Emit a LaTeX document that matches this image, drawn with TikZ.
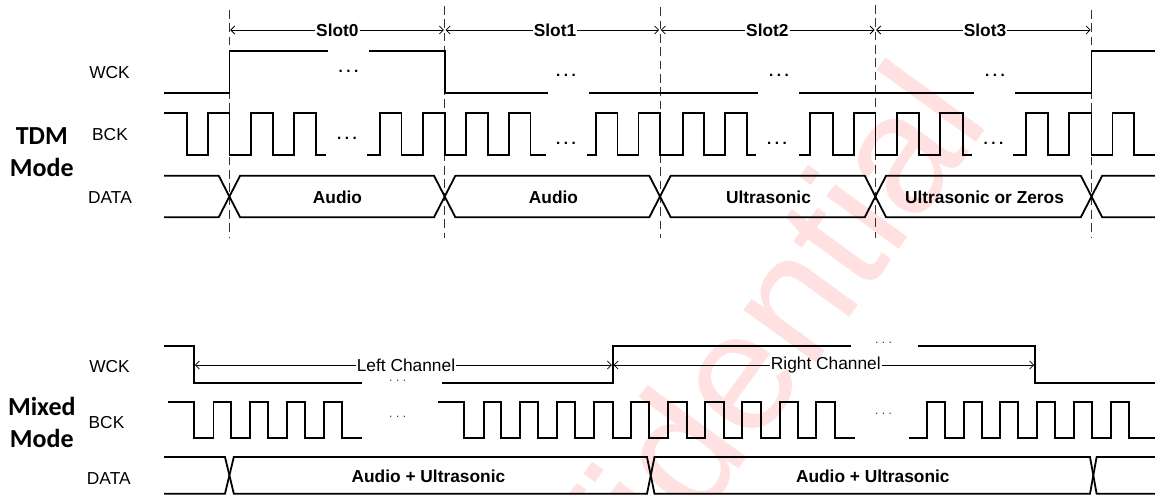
\documentclass[tikz,border=0pt]{standalone}
\usepackage{fontspec}
\setmainfont{Liberation Sans}
\newfontfamily\carl{Carlito}
\usetikzlibrary{arrows.meta}
\definecolor{wmark}{RGB}{255,225,225}
\tikzset{
  sig/.style={line width=1.35pt,black,line join=miter,line cap=butt},
  guide/.style={line width=0.6pt,black!80,dash pattern=on 6.5pt off 3.5pt},
  dim/.style={line width=0.6pt,black,shorten <=0.6pt,shorten >=0.6pt,
     arrows={-{Straight Barb[length=3pt,width=6pt]}}},
  lab/.style={inner sep=0pt,font=\fontsize{13}{15}\selectfont},
  blab/.style={inner sep=0pt,font=\fontsize{13}{15}\selectfont\bfseries},
  mode/.style={inner sep=0pt,align=center,font=\carl\fontsize{19.5}{23.6}\selectfont\bfseries},
  bdots/.style={inner sep=0pt,font=\fontsize{11.5}{12}\selectfont\bfseries},
  tdots/.style={inner sep=0pt,font=\fontsize{9}{10}\selectfont,black!80},
}
\newcommand\spaced{.\kern2.6pt.\kern2.6pt.}
\begin{document}
\begin{tikzpicture}[x=0.75pt,y=-0.75pt]
\path[use as bounding box] (0,0) rectangle (1155,495);
\clip (0,0) rectangle (1155,495);
\fill[white] (0,0) rectangle (1155,495);
% watermark
\node[anchor=base east,inner sep=0pt,rotate=54,text=wmark,font=\fontsize{127}{127}\selectfont] (wm) at (992,121) {Confidential};
% guides
\draw[guide] (229.4,10) -- (229.4,238);
\draw[guide] (444.7,6) -- (444.7,238);
\draw[guide] (660,7.3) -- (660,238);
\draw[guide] (875.4,5) -- (875.4,238);
\draw[guide] (1091.5,10) -- (1091.5,238);
% TDM WCK
\def\yh{51.3}\def\yl{93.3}
\draw[sig] (164,\yl) -- (229.4,\yl) -- (229.4,\yh) -- (328,\yh);
\draw[sig] (369,\yh) -- (444.7,\yh) -- (444.7,\yl) -- (547.5,\yl);
\draw[sig] (589,\yl) -- (758,\yl);
\draw[sig] (799,\yl) -- (974,\yl);
\draw[sig] (1015,\yl) -- (1091.5,\yl) -- (1091.5,\yh) -- (1155,\yh);
% TDM BCK
\def\yh{113.3}\def\yl{155}
\draw[sig] (164,\yh) \foreach \f/\r in {186.8/208,229.4/251,272.6/294} { -- (\f,\yh) -- (\f,\yl) -- (\r,\yl) -- (\r,\yh)} -- (315.6,\yh) -- (315.6,\yl) -- (325.6,\yl);
\draw[sig] (367.4,\yl) -- (380.3,\yl) -- (380.3,\yh) \foreach \f/\r in {401.4/423,444.7/466,487.6/509} { -- (\f,\yh) -- (\f,\yl) -- (\r,\yl) -- (\r,\yh)} -- (530.5,\yh) -- (530.5,\yl) -- (545.7,\yl);
\draw[sig] (587,\yl) -- (596,\yl) -- (596,\yh) \foreach \f/\r in {617.5/638.5,660/682.6,704/725} { -- (\f,\yh) -- (\f,\yl) -- (\r,\yl) -- (\r,\yh)} -- (746.7,\yh) -- (746.7,\yl) -- (756,\yl);
\draw[sig] (798.5,\yl) -- (810,\yl) -- (810,\yh) \foreach \f/\r in {833/854,875.4/897,919/940} { -- (\f,\yh) -- (\f,\yl) -- (\r,\yl) -- (\r,\yh)} -- (962.7,\yh) -- (962.7,\yl) -- (972,\yl);
\draw[sig] (1013,\yl) -- (1026,\yl) -- (1026,\yh) \foreach \f/\r in {1048/1069,1091.5/1112.5} { -- (\f,\yh) -- (\f,\yl) -- (\r,\yl) -- (\r,\yh)} -- (1134,\yh) -- (1134,\yl) -- (1155,\yl);
% TDM DATA
\foreach \u/\v in {175.7/217.3,217.3/175.7}{
\draw[sig] (164,\u) -- (218.7,\u) -- (240.1,\v) -- (434,\v) -- (455.4,\u) -- (649.3,\u) -- (670.7,\v) -- (864.7,\v) -- (886.1,\u) -- (1080.8,\u) -- (1102.2,\v) -- (1155,\v);
}
% Slot dimensions
\coordinate (t0) at (229.4,30);
\coordinate (t1) at (444.7,30);
\coordinate (t2) at (660,30);
\coordinate (t3) at (875.4,30);
\coordinate (t4) at (1091.5,30);
\node[blab] (s0) at (337.4,30) {Slot0};
\node[blab] (s1) at (555,30) {Slot1};
\node[blab] (s2) at (767.4,30) {Slot2};
\node[blab] (s3) at (985,30) {Slot3};
\draw[dim] (s0) -- (t0); \draw[dim] (s0) -- (t1);
\draw[dim] (s1) -- (t1); \draw[dim] (s1) -- (t2);
\draw[dim] (s2) -- (t2); \draw[dim] (s2) -- (t3);
\draw[dim] (s3) -- (t3); \draw[dim] (s3) -- (t4);
% TDM labels
\node[lab] (wck1) at (109.5,72.7) {WCK};
\node[lab] (bck1) at (110,134.7) {BCK};
\node[lab] (data1) at (110,197.3) {DATA};
\node[mode] (tdm) at (41.8,152) {TDM\\Mode};
\node[blab] (d1) at (337.5,197) {Audio};
\node[blab] (d2) at (553.5,197) {Audio};
\node[blab] (d3) at (768.5,197) {Ultrasonic};
\node[blab] (d4) at (984.5,197) {Ultrasonic or Zeros};
\node[bdots] (w1) at (348.5,71) {\spaced};
\node[bdots] (w2) at (566,75) {\spaced};
\node[bdots] (w3) at (779,75) {\spaced};
\node[bdots] (w4) at (995,75) {\spaced};
\node[bdots] (b1) at (347,138.3) {\spaced};
\node[bdots] (b2) at (566,143.7) {\spaced};
\node[bdots] (b3) at (777,143.7) {\spaced};
\node[bdots] (b4) at (993.4,143.7) {\spaced};
% Mixed WCK
\def\yh{346}\def\yl{383.3}
\draw[sig] (164,\yh) -- (194,\yh) -- (194,\yl) -- (361.8,\yl);
\draw[sig] (442,\yl) -- (612.7,\yl) -- (612.7,\yh) -- (850.6,\yh);
\draw[sig] (917.6,\yh) -- (1035,\yh) -- (1035,\yl) -- (1155,\yl);
% Mixed BCK
\def\yh{401.7}\def\yl{438.3}
\draw[sig] (167.6,\yh) \foreach \f/\r in {194/213.5,231/249.7,268/287,305/323.7} { -- (\f,\yh) -- (\f,\yl) -- (\r,\yl) -- (\r,\yh)} -- (342,\yh) -- (342,\yl) -- (361.8,\yl);
\draw[sig] (438.4,\yh) \foreach \f/\r in {464.3/484,501/520,538/557,575/593.7,612.6/631,649/668,686.6/705,724/742,760.7/779.6,798/816} { -- (\f,\yh) -- (\f,\yl) -- (\r,\yl) -- (\r,\yh)} -- (834.7,\yh) -- (834.7,\yl) -- (854.7,\yl);
\draw[sig] (909,\yl) -- (927,\yl) -- (927,\yh) \foreach \f/\r in {945/964,982/1000,1018/1037,1055/1073.7,1092/1110.7} { -- (\f,\yh) -- (\f,\yl) -- (\r,\yl) -- (\r,\yh)} -- (1129,\yh) -- (1129,\yl) -- (1155,\yl);
% Mixed DATA
\foreach \u/\v in {457/493.7,493.7/457}{
\draw[sig] (164,\u) -- (225,\u) -- (233.8,\v) -- (647,\v) -- (654.5,\u) -- (1090,\u) -- (1096.6,\v) -- (1155,\v);
}
% Channel dimensions
\coordinate (c0) at (194,365);
\coordinate (c1) at (612.7,365);
\coordinate (c2) at (1035,365);
\node[lab] (lc) at (406,365) {Left Channel};
\node[lab] (rc) at (825.8,365) {Right Channel};
\draw[dim] (lc) -- (c0); \draw[dim] (lc) -- (c1);
\draw[dim] (rc) -- (c1); \draw[dim] (rc) -- (c2);
% Mixed labels
\node[lab] (wck2) at (109.5,366.7) {WCK};
\node[lab] (bck2) at (106.5,422.7) {BCK};
\node[lab] (data2) at (108.8,479) {DATA};
\node[mode] (mix) at (41.8,422.5) {Mixed\\Mode};
\node[blab] (d5) at (428.4,476) {Audio + Ultrasonic};
\node[blab] (d6) at (872.8,476) {Audio + Ultrasonic};
\node[tdots] (m1) at (397.7,380.7) {\spaced};
\node[tdots] (m2) at (397.7,417.3) {\spaced};
\node[tdots] (m3) at (883.5,343.3) {\spaced};
\node[tdots] (m4) at (883.5,414) {\spaced};
\end{tikzpicture}
\end{document}
